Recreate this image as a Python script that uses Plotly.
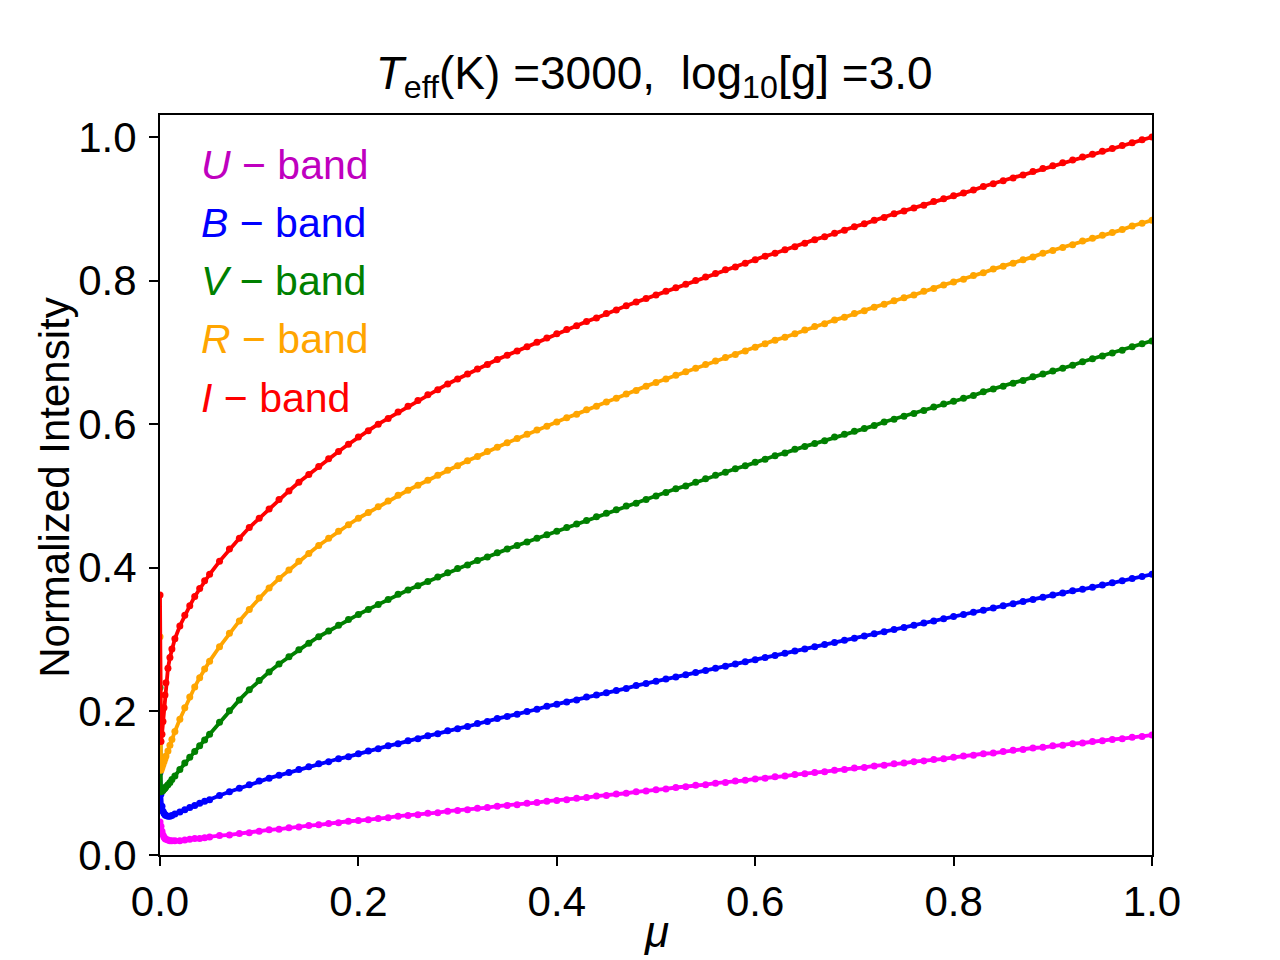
import plotly.graph_objects as go

# mu grid (dense near the limb)
mu_near = [0.0, 0.001, 0.002, 0.003, 0.004, 0.005, 0.006, 0.008, 0.010, 0.012,
           0.015, 0.020, 0.025, 0.030, 0.035, 0.040, 0.045]
mu_main = [0.05, 0.06, 0.07, 0.08, 0.09, 0.10, 0.11, 0.12, 0.13, 0.14, 0.15,
           0.16, 0.17, 0.18, 0.19, 0.20, 0.21, 0.22, 0.23, 0.24, 0.25,
           0.26, 0.27, 0.28, 0.29, 0.30, 0.31, 0.32, 0.33, 0.34, 0.35,
           0.36, 0.37, 0.38, 0.39, 0.40, 0.41, 0.42, 0.43, 0.44, 0.45,
           0.46, 0.47, 0.48, 0.49, 0.50, 0.51, 0.52, 0.53, 0.54, 0.55,
           0.56, 0.57, 0.58, 0.59, 0.60, 0.61, 0.62, 0.63, 0.64, 0.65,
           0.66, 0.67, 0.68, 0.69, 0.70, 0.71, 0.72, 0.73, 0.74, 0.75,
           0.76, 0.77, 0.78, 0.79, 0.80, 0.81, 0.82, 0.83, 0.84, 0.85,
           0.86, 0.87, 0.88, 0.89, 0.90, 0.91, 0.92, 0.93, 0.94, 0.95,
           0.96, 0.97, 0.98, 0.99, 1.00]
mu = mu_near + mu_main

U_band = [0.046, 0.040, 0.033, 0.028, 0.025, 0.023, 0.022, 0.021, 0.020, 0.020,
          0.020, 0.020, 0.021, 0.022, 0.023, 0.023, 0.024,
          0.025, 0.027, 0.028, 0.030, 0.031, 0.033, 0.035, 0.036, 0.038, 0.039, 0.041,
          0.042, 0.044, 0.045, 0.047, 0.048, 0.049, 0.051, 0.052, 0.054, 0.055,
          0.056, 0.058, 0.059, 0.061, 0.062, 0.063, 0.065, 0.066, 0.068, 0.069,
          0.070, 0.072, 0.073, 0.075, 0.076, 0.077, 0.079, 0.080, 0.082, 0.083,
          0.085, 0.086, 0.088, 0.089, 0.091, 0.092, 0.094, 0.095, 0.097, 0.098,
          0.100, 0.101, 0.103, 0.104, 0.106, 0.107, 0.109, 0.110, 0.112, 0.113,
          0.115, 0.116, 0.118, 0.119, 0.121, 0.122, 0.124, 0.125, 0.127, 0.128,
          0.130, 0.131, 0.133, 0.134, 0.136, 0.138, 0.139, 0.141, 0.142, 0.144,
          0.146, 0.147, 0.149, 0.150, 0.152, 0.153, 0.155, 0.156, 0.158, 0.159,
          0.161, 0.162, 0.164, 0.165, 0.167]

B_band = [0.115, 0.085, 0.068, 0.061, 0.058, 0.056, 0.055, 0.054, 0.054, 0.055,
          0.057, 0.060, 0.063, 0.066, 0.069, 0.072, 0.075,
          0.077, 0.083, 0.088, 0.093, 0.098, 0.103, 0.107, 0.111, 0.115, 0.119, 0.123,
          0.127, 0.130, 0.134, 0.137, 0.141, 0.145, 0.148, 0.152, 0.155, 0.159,
          0.162, 0.166, 0.169, 0.173, 0.176, 0.179, 0.183, 0.186, 0.190, 0.193,
          0.196, 0.200, 0.203, 0.207, 0.210, 0.213, 0.216, 0.220, 0.223, 0.226,
          0.229, 0.232, 0.236, 0.239, 0.242, 0.245, 0.248, 0.251, 0.254, 0.257,
          0.260, 0.263, 0.266, 0.269, 0.272, 0.275, 0.278, 0.281, 0.284, 0.287,
          0.290, 0.293, 0.296, 0.299, 0.302, 0.305, 0.308, 0.311, 0.314, 0.317,
          0.320, 0.323, 0.326, 0.329, 0.332, 0.335, 0.338, 0.341, 0.344, 0.347,
          0.350, 0.353, 0.356, 0.359, 0.362, 0.365, 0.368, 0.370, 0.373, 0.376,
          0.379, 0.382, 0.385, 0.388, 0.391]

V_band = [0.233, 0.088, 0.089, 0.090, 0.092, 0.093, 0.095, 0.098, 0.101, 0.105,
          0.110, 0.119, 0.128, 0.136, 0.144, 0.152, 0.160,
          0.168, 0.185, 0.201, 0.216, 0.230, 0.243, 0.255, 0.266, 0.276, 0.286, 0.295,
          0.304, 0.312, 0.320, 0.328, 0.335, 0.342, 0.349, 0.356, 0.363, 0.369,
          0.375, 0.381, 0.387, 0.393, 0.399, 0.404, 0.410, 0.415, 0.421, 0.426,
          0.431, 0.436, 0.441, 0.446, 0.451, 0.456, 0.461, 0.466, 0.471, 0.476,
          0.481, 0.486, 0.490, 0.495, 0.500, 0.505, 0.510, 0.514, 0.519, 0.524,
          0.529, 0.533, 0.538, 0.542, 0.547, 0.551, 0.556, 0.560, 0.565, 0.569,
          0.573, 0.577, 0.582, 0.586, 0.590, 0.594, 0.598, 0.603, 0.607, 0.611,
          0.615, 0.619, 0.624, 0.628, 0.632, 0.636, 0.640, 0.645, 0.649, 0.653,
          0.657, 0.661, 0.666, 0.670, 0.674, 0.678, 0.682, 0.687, 0.691, 0.695,
          0.699, 0.703, 0.708, 0.712, 0.716]

R_band = [0.304, 0.118, 0.122, 0.126, 0.130, 0.134, 0.138, 0.145, 0.153, 0.161,
          0.172, 0.189, 0.205, 0.220, 0.234, 0.247, 0.259,
          0.270, 0.290, 0.309, 0.326, 0.342, 0.358, 0.372, 0.385, 0.397, 0.409, 0.420,
          0.431, 0.441, 0.451, 0.460, 0.469, 0.477, 0.485, 0.493, 0.501, 0.508,
          0.515, 0.522, 0.529, 0.536, 0.542, 0.549, 0.555, 0.562, 0.568, 0.574,
          0.580, 0.586, 0.592, 0.597, 0.603, 0.609, 0.614, 0.620, 0.625, 0.631,
          0.636, 0.642, 0.647, 0.653, 0.658, 0.663, 0.668, 0.673, 0.678, 0.683,
          0.688, 0.693, 0.697, 0.702, 0.707, 0.712, 0.717, 0.721, 0.726, 0.731,
          0.736, 0.740, 0.745, 0.749, 0.754, 0.758, 0.763, 0.767, 0.772, 0.776,
          0.780, 0.785, 0.789, 0.794, 0.798, 0.802, 0.807, 0.811, 0.816, 0.820,
          0.824, 0.829, 0.833, 0.838, 0.842, 0.846, 0.850, 0.855, 0.859, 0.863,
          0.867, 0.871, 0.876, 0.880, 0.884]

I_band = [0.362, 0.158, 0.168, 0.186, 0.205, 0.223, 0.240, 0.260, 0.275, 0.287,
          0.301, 0.319, 0.334, 0.347, 0.360, 0.371, 0.382,
          0.391, 0.409, 0.426, 0.441, 0.456, 0.469, 0.482, 0.495, 0.507, 0.519, 0.530,
          0.541, 0.552, 0.562, 0.572, 0.582, 0.591, 0.600, 0.608, 0.617, 0.625,
          0.633, 0.641, 0.648, 0.656, 0.663, 0.670, 0.677, 0.683, 0.690, 0.696,
          0.702, 0.708, 0.714, 0.720, 0.726, 0.732, 0.737, 0.743, 0.748, 0.754,
          0.759, 0.765, 0.770, 0.775, 0.780, 0.785, 0.790, 0.795, 0.800, 0.805,
          0.810, 0.815, 0.819, 0.824, 0.829, 0.834, 0.838, 0.843, 0.847, 0.852,
          0.857, 0.861, 0.866, 0.870, 0.875, 0.879, 0.884, 0.888, 0.893, 0.897,
          0.901, 0.905, 0.910, 0.914, 0.918, 0.922, 0.926, 0.931, 0.935, 0.939,
          0.943, 0.947, 0.952, 0.956, 0.960, 0.964, 0.968, 0.972, 0.976, 0.980,
          0.984, 0.988, 0.992, 0.996, 1.000]

band_names = ["U", "B", "V", "R", "I"]
band_values = [U_band, B_band, V_band, R_band, I_band]
line_colors = ["#ff00ff", "#0000ff", "#008000", "#ffa500", "#ff0000"]
label_colors = ["#bf00bf", "#0000ff", "#008000", "#ffa500", "#ff0000"]

x_ticks = [0.0, 0.2, 0.4, 0.6, 0.8, 1.0]
y_ticks = [0.0, 0.2, 0.4, 0.6, 0.8, 1.0]

for v in band_values:
    assert len(v) == len(mu), (len(v), len(mu))

FONT = "Liberation Sans"

fig = go.Figure()
for name, vals, col in zip(band_names, band_values, line_colors):
    fig.add_trace(go.Scatter(
        x=mu, y=vals, mode="lines+markers", name=name + "-band",
        line=dict(color=col, width=3.8),
        marker=dict(color=col, size=7, line=dict(width=0)),
        showlegend=False,
    ))

# coloured text legend, upper left
annotations = []
for i, (name, col) in enumerate(zip(band_names, label_colors)):
    annotations.append(dict(
        xref="paper", yref="paper", x=0.039, y=0.933 - i * 0.0787,
        xanchor="left", yanchor="middle", showarrow=False,
        text="<i>%s</i> \u2212 band" % name,
        font=dict(family=FONT, size=41, color=col),
    ))
# axis titles
annotations.append(dict(
    xref="paper", yref="paper", x=-0.106, y=0.496, xanchor="center", yanchor="middle",
    textangle=-90, showarrow=False, text="Normalized Intensity",
    font=dict(family=FONT, size=42, color="black"),
))
annotations.append(dict(
    xref="paper", yref="paper", x=0.5, y=-0.104, xanchor="center", yanchor="middle",
    showarrow=False, text="<i>\u03bc</i>",
    font=dict(family=FONT, size=44, color="black"),
))

# the page adds an 8 px body margin, so the figure is 8 px smaller each way
fig.update_layout(
    width=1272, height=952,
    margin=dict(l=152, r=128, t=107, b=105),
    paper_bgcolor="white", plot_bgcolor="white",
    font=dict(family=FONT, size=42, color="black"),
    title=dict(
        text="<i>T</i><sub>eff</sub>(K) =3000,  log<sub>10</sub>[g] =3.0",
        x=0.508, xanchor="center", y=0.932, yanchor="middle",
        font=dict(family=FONT, size=46, color="black"),
    ),
    annotations=annotations,
)
axis_common = dict(
    showline=True, linecolor="black", linewidth=2, mirror=True,
    ticks="outside", ticklen=9, tickwidth=2, tickcolor="black",
    showgrid=False, zeroline=False, tickformat=".1f",
    tickfont=dict(family=FONT, size=42, color="black"),
)
fig.update_xaxes(range=[0, 1], tickvals=x_ticks, **axis_common)
fig.update_yaxes(range=[0, 1.0306], tickvals=y_ticks, ticklabelstandoff=4, **axis_common)

fig.write_html("out.html")
